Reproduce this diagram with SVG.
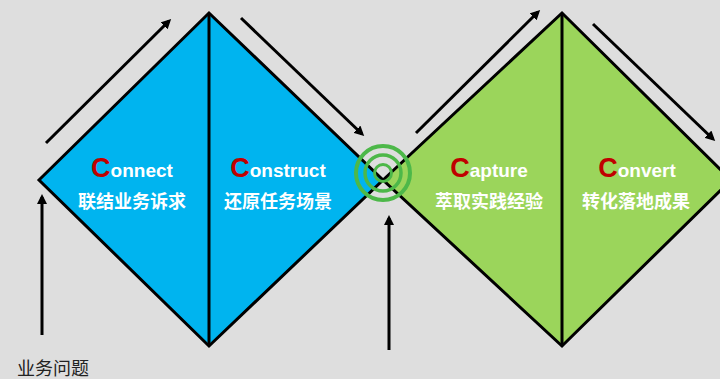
<svg xmlns="http://www.w3.org/2000/svg" width="720" height="379" viewBox="0 0 720 379">
<defs>
<marker id="ah" markerWidth="10" markerHeight="10" refX="7" refY="5" orient="auto" markerUnits="userSpaceOnUse" viewBox="0 0 10 10">
<path d="M0,0 L10,5 L0,10 Z" fill="#000"/>
</marker>
<style>
.dia{stroke:#000;stroke-width:3;stroke-linejoin:miter}
.arr{stroke:#000;stroke-width:3;fill:none;marker-end:url(#ah)}
.en{font-family:"Liberation Sans",Arial,sans-serif;font-weight:bold;fill:#fff;font-size:19px}
.c{fill:#c00000;font-size:27px}
.zh{font-family:"Noto Sans CJK SC","Liberation Sans",sans-serif;font-weight:bold;fill:#fff;font-size:18px}
.ring{fill:none;stroke:#4db849}
</style>
</defs>
<rect width="720" height="379" fill="#dedede"/>
<g id="diamond-left">
<polygon class="dia" points="39,180 209,13 383,180 209,346" fill="#00b4ef"/>
<line class="dia" x1="209" y1="13" x2="209" y2="346"/>
</g>
<g id="diamond-right">
<polygon class="dia" points="383,180 562,13 731,180 562,346" fill="#9bd55b"/>
<line class="dia" x1="562" y1="13" x2="562" y2="346"/>
</g>
<g id="target">
<circle class="ring" cx="383" cy="173" r="27" stroke-width="4"/>
<circle class="ring" cx="383" cy="173" r="18" stroke-width="3.5"/>
<circle class="ring" cx="383" cy="173" r="8.5" stroke-width="3"/>
</g>
<g id="connectors">
<line class="arr" x1="46" y1="143" x2="169" y2="21"/>
<line class="arr" x1="241" y1="18" x2="362" y2="134"/>
<line class="arr" x1="416" y1="133" x2="538" y2="12"/>
<line class="arr" x1="593" y1="24" x2="713" y2="139"/>
<line class="arr" x1="42" y1="335" x2="42" y2="197"/>
<line class="arr" x1="389" y1="350" x2="389" y2="218"/>
</g>
<g id="node-connect">
<text class="en" x="132" y="177" text-anchor="middle"><tspan class="c">C</tspan>onnect</text>
<text class="zh" x="132" y="208" text-anchor="middle">联结业务诉求</text>
</g>
<g id="node-construct">
<text class="en" x="278" y="177" text-anchor="middle"><tspan class="c">C</tspan>onstruct</text>
<text class="zh" x="278" y="208" text-anchor="middle">还原任务场景</text>
</g>
<g id="node-capture">
<text class="en" x="489" y="177" text-anchor="middle"><tspan class="c">C</tspan>apture</text>
<text class="zh" x="489" y="208" text-anchor="middle">萃取实践经验</text>
</g>
<g id="node-convert">
<text class="en" x="637" y="177" text-anchor="middle"><tspan class="c">C</tspan>onvert</text>
<text class="zh" x="636" y="208" text-anchor="middle">转化落地成果</text>
</g>
<g id="label-problem">
<text x="17" y="375" font-family="Noto Sans CJK SC,sans-serif" font-size="18" fill="#222">业务问题</text>
</g>
</svg>
